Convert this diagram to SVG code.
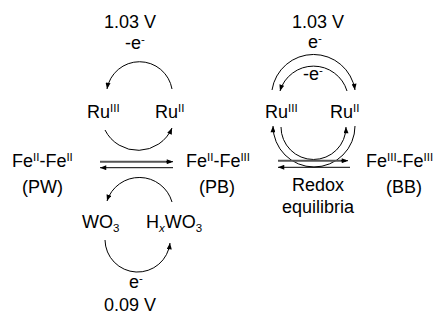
<svg xmlns="http://www.w3.org/2000/svg" width="438" height="322" viewBox="0 0 438 322">
<defs>
<style>
text{font-family:"Liberation Sans",Arial,Helvetica,sans-serif;font-size:18px;fill:#000}
.s{font-size:11.5px}
.m{text-anchor:middle}
.c{fill:none;stroke:#000;stroke-width:1}
.g{fill:none;stroke:#555;stroke-width:2}
</style>
<marker id="ah" viewBox="0 0 10 8" refX="10" refY="4" markerWidth="7" markerHeight="5" markerUnits="userSpaceOnUse" orient="auto"><path d="M0,0 L10,4 L0,8 z" fill="#000"/></marker>
</defs>
<rect width="438" height="322" fill="#fff"/>
<g id="connectors">
<path class="c" d="M172 89 A33 33 0 0 0 107 89" marker-end="url(#ah)"/>
<path class="c" d="M105 130 A37 37 0 0 0 172 128" marker-end="url(#ah)"/>
<path class="g" d="M100 161.7 L171 161.7"/>
<path class="c" d="M166 161.7 L173 161.7" marker-end="url(#ah)"/>
<path class="c" d="M173 167.7 L100 167.7" marker-end="url(#ah)"/>
<path class="c" d="M172 202 A34 34 0 0 0 107 201" marker-end="url(#ah)"/>
<path class="c" d="M105 240 A32.6 32.6 0 0 0 170 243" marker-end="url(#ah)"/>
<path class="c" d="M272 90 A42 42 0 0 1 355 90" marker-end="url(#ah)"/>
<path class="c" d="M347 91 A35 35 0 0 0 280 91" marker-end="url(#ah)"/>
<path class="c" d="M355 126 A41 41 0 0 1 273 126" marker-end="url(#ah)"/>
<path class="c" d="M281 127 A32.5 32.5 0 0 0 346 127" marker-end="url(#ah)"/>
<path class="g" d="M278 160.7 L346 160.7"/>
<path class="c" d="M341 160.7 L348 160.7" marker-end="url(#ah)"/>
<path class="c" d="M350 167.3 L278 167.3" marker-end="url(#ah)"/>
</g>
<g id="lbl-left-top"><text class="m" x="130" y="28">1.03 V</text><text class="m" x="135" y="49">-e<tspan class="s" dy="-6">-</tspan></text></g>
<g id="ru3-left"><text x="87" y="118">Ru<tspan class="s" dy="-6">III</tspan></text></g>
<g id="ru2-left"><text x="155" y="118">Ru<tspan class="s" dy="-6">II</tspan></text></g>
<g id="pw"><text x="12" y="167">Fe<tspan class="s" dy="-6">II</tspan><tspan dy="6">-Fe</tspan><tspan class="s" dy="-6">II</tspan></text><text x="22" y="193">(PW)</text></g>
<g id="pb"><text x="186" y="167">Fe<tspan class="s" dy="-6">II</tspan><tspan dy="6">-Fe</tspan><tspan class="s" dy="-6">III</tspan></text><text x="199" y="193">(PB)</text></g>
<g id="wo3"><text x="82" y="228">WO<tspan class="s" dy="4">3</tspan></text></g>
<g id="hxwo3"><text x="146" y="228">H<tspan class="s" dy="4" font-style="italic">x</tspan><tspan dy="-4">WO</tspan><tspan class="s" dy="4">3</tspan></text></g>
<g id="lbl-left-bottom"><text class="m" x="136" y="288">e<tspan class="s" dy="-6">-</tspan></text><text class="m" x="130" y="311">0.09 V</text></g>
<g id="lbl-right-top"><text class="m" x="318" y="28">1.03 V</text><text class="m" x="315" y="48">e<tspan class="s" dy="-6">-</tspan></text><text class="m" x="313" y="80">-e<tspan class="s" dy="-6">-</tspan></text></g>
<g id="ru3-right"><text x="265" y="118">Ru<tspan class="s" dy="-6">III</tspan></text></g>
<g id="ru2-right"><text x="330" y="118">Ru<tspan class="s" dy="-6">II</tspan></text></g>
<g id="redox"><text class="m" x="318" y="191">Redox</text><text class="m" x="318" y="213">equilibria</text></g>
<g id="bb"><text x="366" y="167">Fe<tspan class="s" dy="-6">III</tspan><tspan dy="6">-Fe</tspan><tspan class="s" dy="-6">III</tspan></text><text x="386" y="193">(BB)</text></g>
</svg>
